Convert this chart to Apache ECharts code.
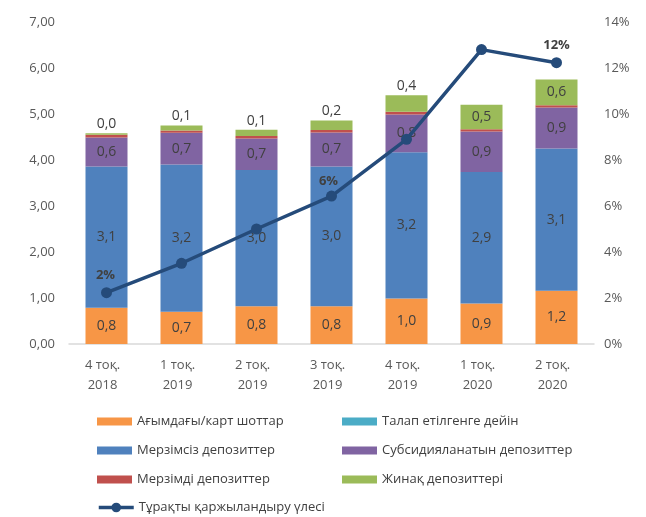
<!DOCTYPE html>
<html>
<head>
<meta charset="utf-8">
<script src="https://cdn.jsdelivr.net/npm/echarts@6/dist/echarts.min.js"></script>
<style>
  html, body { margin: 0; padding: 0; background: #fff; }
  #chart { width: 646px; height: 517px; }
</style>
</head>
<body>
<div id="chart"></div>
<script>
  var categories = ['4 тоқ.\n2018', '1 тоқ.\n2019', '2 тоқ.\n2019', '3 тоқ.\n2019', '4 тоқ.\n2019', '1 тоқ.\n2020', '2 тоқ.\n2020']
  var current = [0.79, 0.70, 0.82, 0.82, 0.99, 0.88, 1.16]
  var onDemand = [0, 0, 0, 0, 0, 0, 0]
  var unlimited = [3.07, 3.20, 2.96, 3.04, 3.18, 2.86, 3.09]
  var subsidized = [0.63, 0.69, 0.69, 0.74, 0.82, 0.88, 0.89]
  var term = [0.06, 0.05, 0.05, 0.05, 0.06, 0.05, 0.05]
  var savings = [0.03, 0.11, 0.14, 0.21, 0.36, 0.53, 0.56]
  var stableShare = [2.23, 3.51, 5.0, 6.43, 8.9, 12.8, 12.23]
  var shareLabelIdx = [0, 3, 6]

  var names = {
    current: 'Ағымдағы/карт шоттар',
    onDemand: 'Талап етілгенге дейін',
    unlimited: 'Мерзімсіз депозиттер',
    subsidized: 'Субсидияланатын депозиттер',
    term: 'Мерзімді депозиттер',
    savings: 'Жинақ депозиттері',
    share: 'Тұрақты қаржыландыру үлесі'
  }

  var font = 'Open Sans'
  var labelColor = '#404040'
  var fmt1 = function (p) { return p.value.toFixed(1).replace('.', ',') }

  function bar(name, data, color, showLabel) {
    return {
      name: name,
      type: 'bar',
      stack: 'total',
      barWidth: 42,
      data: data,
      itemStyle: { color: color },
      label: {
        show: showLabel,
        position: 'inside',
        color: labelColor,
        fontFamily: font,
        fontSize: 14,
        formatter: fmt1
      }
    }
  }

  var savingsData = savings.map(function (v) {
    return { value: v, label: { position: v < 0.45 ? 'top' : 'inside', distance: 2 } }
  })

  var labelOffsets = { 0: [-1, 0], 3: [-3, 2], 6: [0, 0] }
  var shareData = stableShare.map(function (v, i) {
    var show = shareLabelIdx.indexOf(i) >= 0
    return { value: v, label: { show: show, offset: labelOffsets[i] || [0, 0] } }
  })

  var legendText = { color: '#404040', fontSize: 13, fontFamily: font }
  var chart = echarts.init(document.getElementById('chart'))
  var option = {
    animation: false,
    textStyle: { fontFamily: font },
    grid: { left: 69, right: 52, top: 22, bottom: 173 },
    legend: [
      {
        orient: 'vertical', left: 92, top: 410, itemWidth: 35, itemHeight: 8, itemGap: 16,
        textStyle: legendText,
        data: [
          { name: names.current, icon: 'rect' },
          { name: names.unlimited, icon: 'rect' },
          { name: names.term, icon: 'rect' }
        ]
      },
      {
        orient: 'vertical', left: 337, top: 410, itemWidth: 35, itemHeight: 8, itemGap: 16,
        textStyle: legendText,
        data: [
          { name: names.onDemand, icon: 'rect' },
          { name: names.subsidized, icon: 'rect' },
          { name: names.savings, icon: 'rect' }
        ]
      },
      {
        left: 92, top: 496, itemWidth: 35, itemHeight: 12,
        textStyle: legendText,
        lineStyle: { width: 3.5 },
        data: [{ name: names.share }]
      }
    ],
    xAxis: {
      type: 'category',
      data: categories,
      axisLine: { lineStyle: { color: '#d9d9d9', width: 1.5 } },
      axisTick: { show: false },
      axisLabel: { color: '#595959', fontSize: 13, lineHeight: 20, margin: 11, padding: [0, 8, 0, 0] }
    },
    yAxis: [
      {
        type: 'value', min: 0, max: 7, interval: 1,
        splitLine: { show: false },
        axisLine: { show: false },
        axisLabel: {
          color: '#595959', fontSize: 13, margin: 14,
          formatter: function (v) { return v.toFixed(2).replace('.', ',') }
        }
      },
      {
        type: 'value', min: 0, max: 14, interval: 2,
        splitLine: { show: false },
        axisLine: { show: false },
        axisLabel: {
          color: '#595959', fontSize: 13, margin: 10,
          formatter: function (v) { return v + '%' }
        }
      }
    ],
    series: [
      bar(names.current, current, '#f79646', true),
      bar(names.onDemand, onDemand, '#4bacc6', false),
      bar(names.unlimited, unlimited, '#4f81bd', true),
      bar(names.subsidized, subsidized, '#8064a2', true),
      bar(names.term, term, '#c0504d', false),
      bar(names.savings, savingsData, '#9bbb59', true),
      {
        name: names.share,
        type: 'line',
        yAxisIndex: 1,
        z: 10,
        data: shareData,
        symbol: 'circle',
        symbolSize: 11,
        lineStyle: { color: '#254b7a', width: 3.5 },
        itemStyle: { color: '#254b7a' },
        label: {
          position: 'top',
          color: labelColor,
          fontWeight: 'bold',
          fontSize: 13,
          fontFamily: font,
          formatter: function (p) { return Math.round(p.value) + '%' }
        }
      }
    ]
  }
  chart.setOption(option)
</script>
</body>
</html>
